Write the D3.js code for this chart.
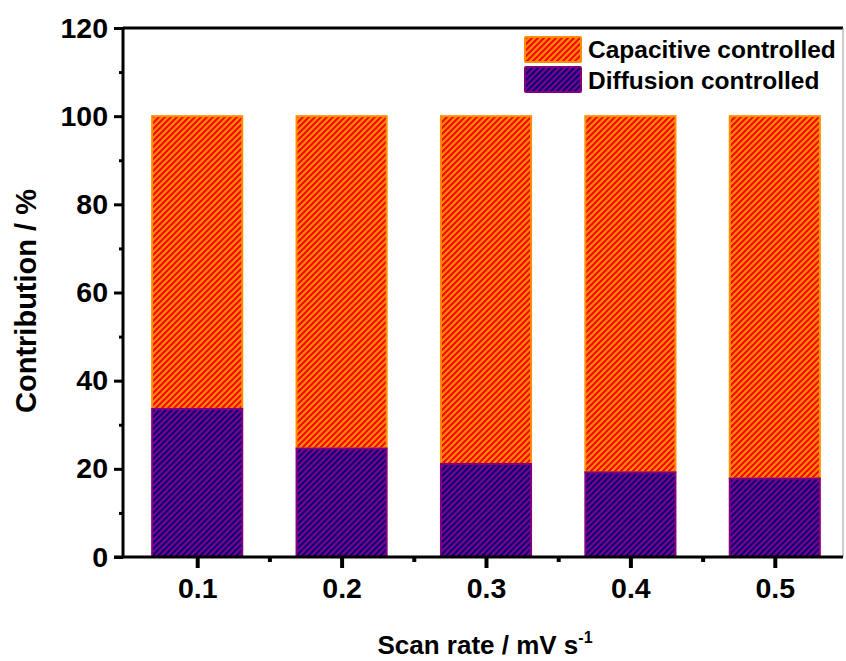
<!DOCTYPE html>
<html><head><meta charset="utf-8">
<script src="https://cdn.jsdelivr.net/npm/d3@7"></script>
<style>body{margin:0;background:#fff}svg{display:block}text{font-family:"Liberation Sans",Arial,sans-serif;font-weight:bold;fill:#000}</style>
</head><body><svg id="c" width="846" height="661"></svg>
<script>
const categories = [0.1, 0.2, 0.3, 0.4, 0.5];
const diffusion = [33.6, 24.6, 21.1, 19.2, 17.8];
const capacitive = diffusion.map(d => 100 - d);
const yTicks = [0, 20, 40, 60, 80, 100, 120];
const seriesNames = ["Capacitive controlled", "Diffusion controlled"];

const svg = d3.select("#c");
const L = 123, R = 843, T = 28, B = 557;
const x = d3.scaleLinear().domain([0.05, 0.55]).range([125, 847]);
const y = d3.scaleLinear().domain([0, 120]).range([B, T]);

const defs = svg.append("defs");
function hatch(id, bg, fg) {
  const p = defs.append("pattern").attr("id", id).attr("patternUnits", "userSpaceOnUse")
    .attr("width", 6).attr("height", 6);
  p.append("rect").attr("width", 6).attr("height", 6).attr("fill", bg);
  p.append("path").attr("d", "M-1,1 l2,-2 M0,6 l6,-6 M5,7 l2,-2")
    .attr("stroke", fg).attr("stroke-width", 2);
}
hatch("hc", "#FF8C00", "#FF0000");
hatch("hd", "#800080", "#000080");

const half = 0.0312;
const g = svg.append("g");
categories.forEach((c, i) => {
  const x0 = x(c - half), w = x(c + half) - x(c - half);
  g.append("rect").attr("x", x0).attr("y", y(100)).attr("width", w)
    .attr("height", y(diffusion[i]) - y(100)).attr("fill", "url(#hc)")
    .attr("stroke", "#FF8C00").attr("stroke-width", 2);
  g.append("rect").attr("x", x0).attr("y", y(diffusion[i])).attr("width", w)
    .attr("height", y(0) - y(diffusion[i])).attr("fill", "url(#hd)")
    .attr("stroke", "#800080").attr("stroke-width", 2);
});

// frame: top & right
svg.append("line").attr("x1", L).attr("x2", R).attr("y1", T).attr("y2", T).attr("stroke", "#000").attr("stroke-width", 3);
svg.append("line").attr("x1", R).attr("x2", R).attr("y1", T).attr("y2", B).attr("stroke", "#999").attr("stroke-width", 1);

// y axis
const ya = svg.append("g").attr("transform", `translate(${L},0)`)
  .call(d3.axisLeft(y).tickValues(yTicks).tickSize(9).tickPadding(6).tickFormat(d3.format("d")));
ya.select(".domain").attr("stroke-width", 3).attr("d", `M0,${T}V${B}`);
ya.selectAll(".tick line").attr("stroke-width", 3);
ya.selectAll(".tick text").style("font-size", "28.5px").style("font-family", "Liberation Sans");
const yMinor = svg.append("g").attr("transform", `translate(${L},0)`)
  .call(d3.axisLeft(y).tickValues([10, 30, 50, 70, 90, 110]).tickSize(4).tickFormat(""));
yMinor.select(".domain").remove();
yMinor.selectAll(".tick line").attr("stroke-width", 3);

// x axis
const xa = svg.append("g").attr("transform", `translate(0,${B})`)
  .call(d3.axisBottom(x).tickValues(categories).tickSize(11).tickPadding(10).tickFormat(d3.format(".1f")));
xa.select(".domain").attr("stroke-width", 3).attr("d", `M${L - 9},0H${R}`);
xa.selectAll(".tick line").attr("stroke-width", 4);
xa.selectAll(".tick text").style("font-size", "28.5px").style("font-family", "Liberation Sans");
const xMinor = svg.append("g").attr("transform", `translate(0,${B})`)
  .call(d3.axisBottom(x).tickValues([0.15, 0.25, 0.35, 0.45]).tickSize(5).tickFormat(""));
xMinor.select(".domain").remove();
xMinor.selectAll(".tick line").attr("stroke-width", 4);

// titles
const xt = svg.append("text").attr("x", 485).attr("y", 654).attr("text-anchor", "middle").style("font-size", "26px");
xt.append("tspan").text("Scan rate / mV s");
xt.append("tspan").attr("dy", -11).style("font-size", "16px").text("-1");
svg.append("text").attr("transform", "translate(36,301) rotate(-90)").attr("text-anchor", "middle")
  .style("font-size", "29px").text("Contribution / %");

// legend
const lg = svg.append("g");
[["url(#hc)", "#FF8C00"], ["url(#hd)", "#800080"]].forEach((s, i) => {
  lg.append("rect").attr("x", 525).attr("y", 37 + i * 30).attr("width", 56).attr("height", 25)
    .attr("fill", s[0]).attr("stroke", s[1]).attr("stroke-width", 2).attr("rx", 1);
  lg.append("text").attr("x", 588).attr("y", 58 + i * 31).style("font-size", "24.5px").text(seriesNames[i]);
});
</script></body></html>
